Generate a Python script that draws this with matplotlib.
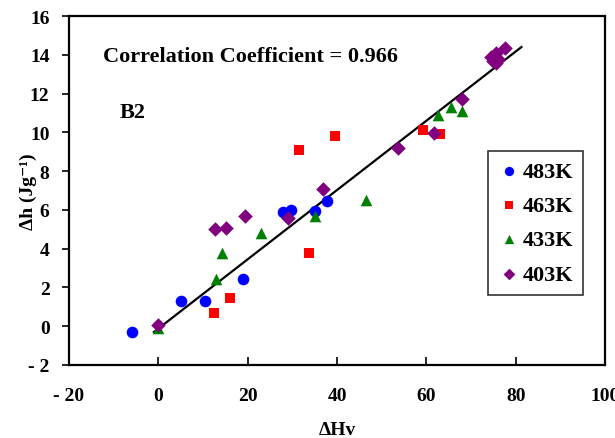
import matplotlib
matplotlib.use("Agg")
import matplotlib.pyplot as plt
import numpy as np

plt.rcParams['font.family'] = ['Liberation Serif', 'DejaVu Serif']
plt.rcParams['font.weight'] = 'bold'
plt.rcParams['axes.unicode_minus'] = False

x_483 = [-6.0, 5.1, 10.4, 18.9, 27.8, 29.8, 35.1, 37.8]
y_483 = [-0.3, 1.28, 1.28, 2.46, 5.9, 6.0, 5.95, 6.46]

x_463 = [12.4, 16.0, 31.6, 39.5, 33.8, 59.3, 63.1]
y_463 = [0.67, 1.44, 9.1, 9.8, 3.8, 10.1, 9.9]

x_433 = [0.0, 12.9, 14.3, 22.9, 35.1, 46.4, 62.7, 65.5, 68.0]
y_433 = [-0.1, 2.46, 3.8, 4.8, 5.7, 6.5, 10.9, 11.3, 11.1]

x_403 = [0.0, 12.7, 15.2, 19.5, 29.1, 36.9, 53.6, 61.7, 68.0, 74.5, 75.5, 75.0, 75.5, 76.0, 77.5]
y_403 = [0.05, 5.03, 5.07, 5.7, 5.6, 7.1, 9.2, 9.95, 11.7, 13.9, 14.1, 13.7, 13.6, 13.8, 14.36]

fit_x = [-1.0, 81.3]
fit_y = [-0.3, 14.4]

labels = ['483K', '463K', '433K', '403K']
xticks = [-20, 0, 20, 40, 60, 80, 100]
yticks = [-2, 0, 2, 4, 6, 8, 10, 12, 14, 16]
xtick_labels = ['- 20', '0', '20', '40', '60', '80', '100']
ytick_labels = ['- 2', '0', '2', '4', '6', '8', '10', '12', '14', '16']

fig = plt.figure(figsize=(6.15, 4.39), dpi=100)
ax = fig.add_axes([69/615, 1-366/439, (605-69)/615, (366-17)/439])

ax.plot(fit_x, fit_y, color='black', lw=1.6, zorder=2)
ax.scatter(x_483, y_483, marker='o', s=70, color='#0000ff', label=labels[0], zorder=3, linewidths=0)
ax.scatter(x_463, y_463, marker='s', s=45, color='#ff0000', label=labels[1], zorder=3, linewidths=0)
ax.scatter(x_433, y_433, marker='^', s=70, color='#008000', label=labels[2], zorder=3, linewidths=0)
ax.scatter(x_403, y_403, marker='D', s=55, color='#800080', label=labels[3], zorder=3, linewidths=0)

ax.set_xlim(-20, 100)
ax.set_ylim(-2, 16)
ax.set_xticks(xticks)
ax.set_xticklabels(xtick_labels)
ax.set_yticks(yticks)
ax.set_yticklabels(ytick_labels)
ax.tick_params(axis='x', direction='in', length=6, width=1.2, labelsize=14, pad=16)
ax.tick_params(axis='y', direction='out', length=5, width=1.2, labelsize=14, pad=9)
for lab in ax.get_xticklabels() + ax.get_yticklabels():
    lab.set_fontweight('bold')
for sp in ax.spines.values():
    sp.set_linewidth(1.6)

ax.set_xlabel('ΔHv', fontsize=14, fontweight='bold')
ax.xaxis.set_label_coords(0.5, -0.16)
ax.set_ylabel('Δh (Jg⁻¹)', fontsize=14, fontweight='bold')
ax.yaxis.set_label_coords(-0.06, 0.5)

ax.text(0.063, 0.885, 'Correlation Coefficient = 0.966', transform=ax.transAxes,
        fontsize=16, fontweight='bold', va='center', ha='left')
ax.text(0.095, 0.725, 'B2', transform=ax.transAxes, fontsize=16, fontweight='bold',
        va='center', ha='left')

leg = ax.legend(loc='upper left', bbox_to_anchor=(0.782, 0.613), frameon=True,
                fancybox=False, edgecolor='black', handletextpad=0.1, borderaxespad=0,
                borderpad=0.45, labelspacing=0.62, handlelength=1.0, markerscale=0.8,
                prop={'weight': 'bold', 'size': 16})
leg.get_frame().set_linewidth(1.2)

fig.savefig('out.png', dpi=100)
